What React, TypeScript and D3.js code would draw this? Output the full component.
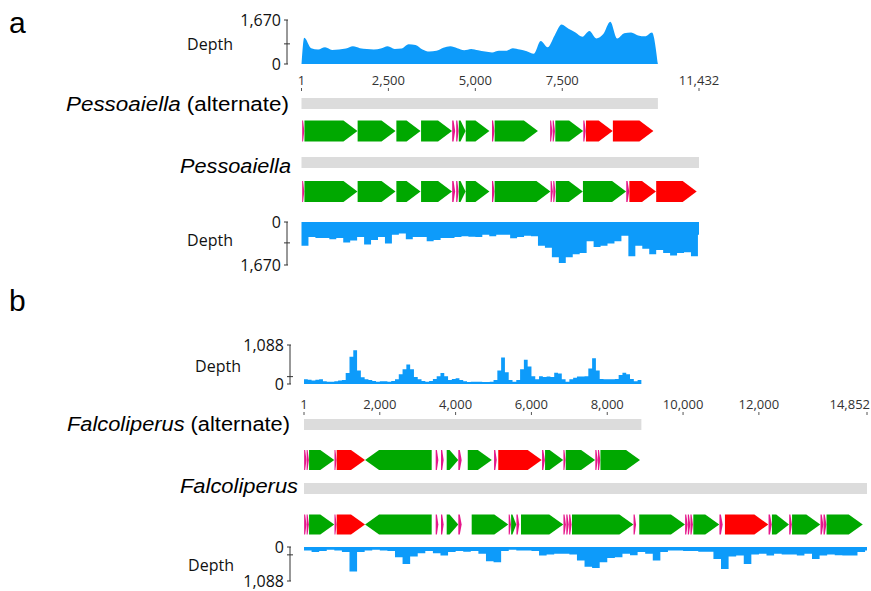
import React from "react";
import * as d3 from "d3";

const W = 871;
const H = 591;

// ---------- Panel a data ----------
const lenA = 11432;
const lenAAlt = 10250;
const ticksA = [1, 2500, 5000, 7500, 11432];
const maxA = 1670;
// alternate assembly depth, samples every 200 bp starting at 80 bp
const depthAAltStart = 80;
const depthAAltStep = 200;
const depthAAlt = [
  1000, 600, 550, 635, 535, 550, 585, 670, 600, 570, 550, 585, 670, 570, 585, 750, 720, 550, 470, 500,
  620, 670, 600, 520, 570, 520, 470, 435, 500, 500, 600, 550, 485, 385, 870, 635, 1085, 1500, 1335, 1200,
  1035, 1250, 970, 1135, 1600, 970, 1170, 1200, 1085, 1050, 1200,
];
// full assembly depth, 200 bp bins
const depthAFullStep = 200;
const depthAFull = [
  920, 585, 620, 620, 670, 620, 800, 720, 585, 870, 700, 585, 835, 500, 450, 670, 585, 585, 750, 700,
  620, 620, 585, 550, 570, 585, 500, 550, 500, 500, 635, 585, 535, 550, 920, 1000, 1370, 1590, 1370, 1250,
  1200, 750, 970, 920, 835, 750, 535, 1335, 920, 1035, 1250, 1085, 1200, 1300, 1200, 1170, 1335, 500,
];

type Gene = [number, number, string, number];
const genesAAlt: Gene[] = [
  [20, 80, "trna", 1], [85, 1610, "cds", 1], [1615, 2705, "cds", 1], [2730, 3425, "cds", 1],
  [3440, 4330, "cds", 1], [4335, 4420, "trna", 1], [4450, 4520, "trna", 1], [4525, 4720, "cds", 1],
  [4725, 5405, "cds", 1], [5480, 5550, "trna", 1], [5555, 6800, "cds", 1], [7150, 7215, "trna", 1],
  [7225, 7290, "trna", 1], [7300, 8100, "cds", 1], [8105, 8175, "trna", 1], [8180, 8950, "rrna", 1],
  [8955, 10120, "rrna", 1],
];
const genesAFull: Gene[] = [
  [20, 80, "trna", 1], [85, 1610, "cds", 1], [1615, 2705, "cds", 1], [2730, 3425, "cds", 1],
  [3440, 4330, "cds", 1], [4335, 4420, "trna", 1], [4450, 4520, "trna", 1], [4525, 4720, "cds", 1],
  [4725, 5405, "cds", 1], [5480, 5550, "trna", 1], [5555, 7160, "cds", 1], [7165, 7230, "trna", 1],
  [7240, 7305, "trna", 1], [7315, 8090, "cds", 1], [8095, 9335, "cds", 1], [9340, 9425, "trna", 1],
  [9430, 10195, "rrna", 1], [10200, 11365, "rrna", 1],
];

// ---------- Panel b data ----------
const lenB = 14852;
const lenBAlt = 8900;
const ticksB = [1, 2000, 4000, 6000, 8000, 10000, 12000, 14852];
const maxB = 1088;
const depthBAltStep = 100;
const depthBAlt = [
  130, 120, 98, 120, 130, 76, 65, 65, 76, 98, 109, 305, 760, 945, 380, 185, 130, 109, 87, 65,
  76, 76, 65, 87, 130, 272, 413, 545, 413, 196, 130, 87, 65, 87, 141, 218, 305, 218, 109, 141,
  163, 109, 76, 54, 65, 65, 65, 54, 54, 65, 109, 380, 740, 326, 109, 65, 109, 413, 675, 490,
  218, 130, 218, 196, 207, 196, 315, 294, 130, 65, 130, 174, 207, 207, 218, 435, 718, 380, 141, 130,
  130, 130, 141, 250, 315, 272, 141, 76, 109,
];
const depthBFullStep = 200;
const depthBFull = [
  109, 163, 130, 87, 109, 163, 785, 163, 109, 87, 109, 130, 326, 545, 305, 196, 130, 196, 272, 163,
  130, 152, 130, 218, 457, 490, 130, 87, 109, 109, 130, 272, 240, 218, 218, 240, 435, 630, 675, 490,
  350, 326, 218, 260, 163, 218, 435, 163, 109, 109, 130, 130, 152, 152, 380, 707, 305, 272, 545, 240,
  218, 272, 218, 240, 240, 272, 218, 380, 272, 240, 260, 272, 272, 163, 109,
];

const genesBAlt: Gene[] = [
  [5, 65, "trna", 1], [70, 130, "trna", 1], [135, 800, "cds", 1], [805, 860, "trna", 1],
  [863, 1610, "rrna", 1], [1612, 3370, "cds", -1], [3475, 3545, "trna", 1], [3615, 3685, "trna", 1],
  [3765, 4070, "cds", 1], [4071, 4160, "trna", 1], [4320, 4955, "cds", 1], [5015, 5085, "trna", 1],
  [5125, 6270, "rrna", 1], [6280, 6355, "trna", 1], [6360, 6840, "cds", 1], [6845, 6900, "trna", 1],
  [6905, 7680, "cds", 1], [7685, 7750, "trna", 1], [7755, 7815, "trna", 1], [7820, 8865, "cds", 1],
];
const genesBFull: Gene[] = [
  [5, 65, "trna", 1], [70, 130, "trna", 1], [135, 800, "cds", 1], [805, 860, "trna", 1],
  [863, 1610, "rrna", 1], [1612, 3370, "cds", -1], [3475, 3545, "trna", 1], [3615, 3685, "trna", 1],
  [3765, 4070, "cds", 1], [4071, 4160, "trna", 1], [4425, 5390, "cds", 1], [5400, 5460, "trna", 1],
  [5465, 5600, "cds", 1], [5605, 5680, "trna", 1], [5725, 6840, "cds", 1], [6845, 6910, "trna", 1],
  [6920, 6985, "trna", 1], [6995, 7060, "trna", 1], [7070, 8690, "cds", 1], [8695, 8760, "trna", 1],
  [8845, 10050, "cds", 1], [10055, 10120, "trna", 1], [10125, 10190, "trna", 1], [10195, 10260, "trna", 1],
  [10270, 10955, "cds", 1], [10960, 11045, "trna", 1], [11105, 12250, "rrna", 1], [12255, 12340, "trna", 1],
  [12345, 12795, "cds", 1], [12800, 12870, "trna", 1], [12875, 13620, "cds", 1], [13625, 13700, "trna", 1],
  [13705, 13780, "trna", 1], [13785, 14740, "cds", 1],
];

// ---------- styles ----------
const DEPTH_COLOR = "#0D9BFA";
const BAR_COLOR = "#DCDCDC";
const GENE_COLORS: Record<string, string> = { cds: "#00A800", rrna: "#FF0000", trna: "#E5168A" };
const SANS = "'Open Sans', 'DejaVu Sans', sans-serif";
const ARIAL = "'Liberation Sans', Arial, sans-serif";
const fmt = d3.format(",");

function genePath(x0: number, x1: number, yc: number, h: number, strand: number, type: string) {
  const w = Math.max(x1 - x0, 1);
  const head = type === "trna" ? w * 0.55 : Math.min(14, w * 0.75);
  const t = yc - h / 2;
  const b = yc + h / 2;
  if (strand > 0) {
    return `M${x0},${t}L${x1 - head},${t}L${x1},${yc}L${x1 - head},${b}L${x0},${b}Z`;
  }
  return `M${x1},${t}L${x0 + head},${t}L${x0},${yc}L${x0 + head},${b}L${x1},${b}Z`;
}

function GeneTrack({ genes, x, yc, h }: { genes: Gene[]; x: d3.ScaleLinear<number, number>; yc: number; h: number }) {
  return (
    <g>
      {genes.map((g, i) => (
        <path key={i} d={genePath(x(g[0]), x(g[1]), yc, h, g[3], g[2])} fill={GENE_COLORS[g[2]]} />
      ))}
    </g>
  );
}

type DepthProps = {
  x: d3.ScaleLinear<number, number>;
  pts: [number, number][];
  y0: number;
  y1: number;
  max: number;
  smooth: boolean;
  axisX: number;
  depthX: number;
  depthY: number;
  mean: number;
};

function DepthTrack({ x, pts, y0, y1, max, smooth, axisX, depthX, depthY, mean }: DepthProps) {
  const y = d3.scaleLinear().domain([0, max]).range([y0, y1]);
  const area = d3
    .area<[number, number]>()
    .x((d) => x(d[0]))
    .y0(y(0))
    .y1((d) => y(d[1]))
    .curve(smooth ? d3.curveMonotoneX : d3.curveStepAfter);
  return (
    <g>
      <path d={area(pts) || ""} fill={DEPTH_COLOR} />
      <line x1={axisX} x2={axisX} y1={y(0)} y2={y(max)} stroke="#333" strokeWidth={1} />
      <line x1={axisX - 3} x2={axisX + 1} y1={y(0)} y2={y(0)} stroke="#333" />
      <line x1={axisX - 3} x2={axisX + 1} y1={y(max)} y2={y(max)} stroke="#333" />
      <line x1={axisX - 3} x2={axisX + 3} y1={y(mean)} y2={y(mean)} stroke="#333" />
      <text x={axisX - 6} y={y(0)} dy="0.35em" textAnchor="end" fontSize={16} fontFamily={SANS} fill="#111">
        0
      </text>
      <text x={axisX - 6} y={y(max)} dy="0.35em" textAnchor="end" fontSize={16} fontFamily={SANS} fill="#111">
        {fmt(max)}
      </text>
      <text x={depthX} y={depthY} dy="0.35em" textAnchor="middle" fontSize={16} fontFamily={SANS} fill="#111">
        Depth
      </text>
    </g>
  );
}

function XAxis({ x, ticks, labelY, tickY }: { x: d3.ScaleLinear<number, number>; ticks: number[]; labelY: number; tickY: number }) {
  return (
    <g>
      {ticks.map((t) => {
        const px = x(t);
        const over = px + 20 > W;
        return (
          <g key={t}>
            <text
              x={over ? W - 1 : px}
              y={labelY}
              textAnchor={over ? "end" : "middle"}
              fontSize={13}
              fontFamily={SANS}
              fill="#333"
            >
              {fmt(t)}
            </text>
            <line x1={px} x2={px} y1={tickY} y2={tickY + 3} stroke="#555" />
          </g>
        );
      })}
    </g>
  );
}

function binned(values: number[], step: number, len: number): [number, number][] {
  const pts: [number, number][] = values.map((v, i) => [i * step + 1, v]);
  pts.push([len, values[values.length - 1]]);
  return pts;
}

function GenomeLabel({ x, y, name, alt, width }: { x: number; y: number; name: string; alt: boolean; width: number }) {
  return (
    <text x={x} y={y} textAnchor="end" fontSize={20} fontFamily={ARIAL} fill="#000" textLength={width} lengthAdjust="spacingAndGlyphs">
      <tspan fontStyle="italic">{name}</tspan>
      {alt ? " (alternate)" : ""}
    </text>
  );
}

export default function App() {
  const xA = d3.scaleLinear().domain([1, lenA]).range([301.5, 699]);
  const xB = d3.scaleLinear().domain([1, lenB]).range([304, 867]);

  const ptsAAlt: [number, number][] = [[1, 0]];
  depthAAlt.forEach((v, i) => ptsAAlt.push([depthAAltStart + i * depthAAltStep, v]));
  ptsAAlt.push([lenAAlt, 0]);

  const ptsAFull = binned(depthAFull, depthAFullStep, lenA);
  const ptsBAlt = binned(depthBAlt, depthBAltStep, lenBAlt);
  const ptsBFull = binned(depthBFull, depthBFullStep, lenB);

  const meanAAlt = d3.mean(depthAAlt) || 0;
  const meanAFull = d3.mean(depthAFull) || 0;
  const meanBAlt = d3.mean(depthBAlt) || 0;
  const meanBFull = d3.mean(depthBFull) || 0;

  return (
    <div style={{ position: "absolute", left: 0, top: 0 }}>
      <svg width={W} height={H} viewBox={`0 0 ${W} ${H}`} style={{ display: "block", background: "#fff" }}>
        {/* panel a */}
        <text x={9} y={33} fontSize={30} fontFamily={ARIAL} fill="#000">a</text>
        <DepthTrack x={xA} pts={ptsAAlt} y0={64} y1={20} max={maxA} smooth={true} axisX={287} depthX={210} depthY={44} mean={meanAAlt} />
        <XAxis x={xA} ticks={ticksA} labelY={85} tickY={88} />
        <GenomeLabel x={289} y={111} name="Pessoaiella" alt={true} width={223} />
        <rect x={xA(1)} y={98} width={xA(lenAAlt) - xA(1)} height={11} fill={BAR_COLOR} />
        <GeneTrack genes={genesAAlt} x={xA} yc={131} h={21} />
        <GenomeLabel x={291} y={173} name="Pessoaiella" alt={false} width={111} />
        <rect x={xA(1)} y={157} width={xA(lenA) - xA(1)} height={11} fill={BAR_COLOR} />
        <GeneTrack genes={genesAFull} x={xA} yc={191.5} h={21} />
        <DepthTrack x={xA} pts={ptsAFull} y0={222} y1={265} max={maxA} smooth={false} axisX={287} depthX={210} depthY={240} mean={meanAFull} />

        {/* panel b */}
        <text x={9} y={311} fontSize={30} fontFamily={ARIAL} fill="#000">b</text>
        <DepthTrack x={xB} pts={ptsBAlt} y0={384} y1={345} max={maxB} smooth={false} axisX={290} depthX={218} depthY={366} mean={meanBAlt} />
        <XAxis x={xB} ticks={ticksB} labelY={409} tickY={412} />
        <GenomeLabel x={290} y={431} name="Falcoliperus" alt={true} width={223} />
        <rect x={xB(1)} y={419} width={xB(lenBAlt) - xB(1)} height={11} fill={BAR_COLOR} />
        <GeneTrack genes={genesBAlt} x={xB} yc={460} h={20} />
        <GenomeLabel x={298} y={493} name="Falcoliperus" alt={false} width={118} />
        <rect x={xB(1)} y={483} width={xB(lenB) - xB(1)} height={11} fill={BAR_COLOR} />
        <GeneTrack genes={genesBFull} x={xB} yc={524.5} h={20} />
        <DepthTrack x={xB} pts={ptsBFull} y0={547} y1={581} max={maxB} smooth={false} axisX={290} depthX={211} depthY={565} mean={meanBFull} />
      </svg>
    </div>
  );
}
